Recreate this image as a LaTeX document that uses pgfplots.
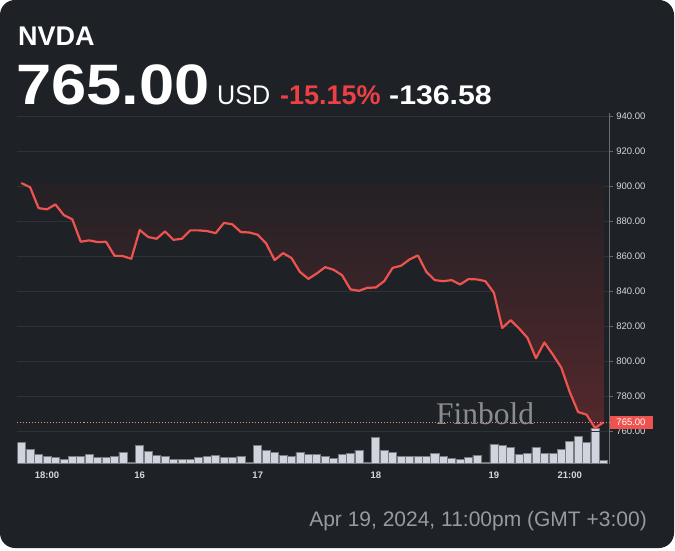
\documentclass[border=0pt]{standalone}
\usepackage{pgfplots}
\pgfplotsset{compat=1.18}
\usepackage{pgfplotstable}
\usepackage{graphicx}
\usepackage{fontspec}
\setmainfont{Liberation Sans}
\newfontfamily\seriffont{Liberation Serif}
\definecolor{bg}{RGB}{30,33,38}
\definecolor{gridc}{RGB}{46,49,55}
\definecolor{axisline}{RGB}{105,108,114}
\definecolor{lblgray}{RGB}{212,215,220}
\definecolor{pline}{RGB}{239,83,80}
\definecolor{pcred}{RGB}{236,64,68}
\definecolor{vol}{RGB}{209,212,220}
\definecolor{voledge}{RGB}{120,123,130}
\definecolor{filltop}{RGB}{36,33,37}
\definecolor{fillbot}{RGB}{84,40,44}
\definecolor{dategray}{RGB}{150,155,163}

\pgfplotstableread{
i p
1 901.6
2 899.3
3 887.4
4 886.7
5 889.5
6 883.4
7 881.0
8 868.2
9 869.0
10 868.0
11 868.2
12 860.2
13 860.0
14 858.5
15 874.9
16 870.9
17 869.9
18 874.1
19 869.3
20 869.9
21 874.7
22 874.7
23 874.3
24 873.1
25 879.0
26 878.1
27 873.7
28 873.5
29 872.2
30 867.2
31 857.7
32 861.7
33 858.9
34 851.0
35 847.0
36 850.1
37 853.7
38 852.2
39 849.1
40 841.0
41 840.2
42 841.9
43 842.1
44 845.7
45 853.3
46 854.5
47 858.1
48 860.4
49 851.0
50 846.3
51 845.7
52 846.3
53 843.8
54 846.9
55 846.7
56 845.7
57 839.2
58 819.0
59 823.4
60 818.7
61 813.3
62 801.7
63 810.7
64 803.8
65 796.4
66 782.5
67 771.0
68 769.5
69 761.9
70 765.0
}\price

\pgfplotstableread{
i v
1 21
2 14.7
3 9.3
4 7
5 6.3
6 4.7
7 7
8 7.7
9 9.3
10 6.3
11 6.3
12 7.7
13 11.3
14 1.3
15 18.7
16 12.3
17 8.7
18 7
19 4.7
20 4.7
21 4.7
22 6
23 7
24 8.7
25 6
26 6
27 7.7
28 1
29 18.7
30 13
31 11
32 8.7
33 7
34 11
35 9.5
36 9.3
37 7
38 5.7
39 9.3
40 10.7
41 13.7
42 1.7
43 26.3
44 13
45 11.3
46 7.7
47 7
48 7
49 7
50 10
51 7.3
52 5.7
53 4
54 6.3
55 8.7
56 1.3
57 19.7
58 18.7
59 16
60 9.3
61 10
62 16
63 10.7
64 10
65 14.3
66 22.7
67 27
68 21.7
69 35.7
70 3.3
}\volume

\begin{document}
\begin{tikzpicture}[x=1pt,y=1pt]
\fill[white] (0,0) rectangle (675,550);
\fill[bg, rounded corners=15pt] (0,2) rectangle (674,550);

% header
\node[anchor=base west, inner sep=0, text=white] at (18,504)
  {\fontsize{27}{27}\selectfont\bfseries NVDA};
\node[anchor=base west, inner sep=0, text=white] at (16,445)
  {\scalebox{1.11}[1]{\fontsize{57}{57}\selectfont\bfseries 765.00}};
\node[anchor=base west, inner sep=0, text=white] at (217,445)
  {\scalebox{0.93}[1]{\fontsize{27}{27}\selectfont USD}};
\node[anchor=base west, inner sep=0, text=pcred] at (280,445)
  {\fontsize{27}{27}\selectfont\bfseries -15.15\%};
\node[anchor=base west, inner sep=0, text=white] at (389,445)
  {\scalebox{1.12}[1]{\fontsize{27}{27}\selectfont\bfseries -136.58}};

% date
\node[anchor=base east, inner sep=0, text=dategray] at (647,24)
  {\fontsize{21}{21}\selectfont Apr 19, 2024, 11:00pm (GMT +3:00)};

% volume
\begin{axis}[at={(17.5pt,86.3pt)}, anchor=south west, scale only axis,
  width=591.8pt, height=350.7pt,
  xmin=0.5, xmax=70.7, ymin=0, ymax=350.7,
  axis lines=none]
\addplot[ybar, bar width=0.95, fill=vol, draw=voledge, line width=0.6pt]
  table[x=i, y=v] {\volume};
\end{axis}

% price
\begin{axis}[at={(17.5pt,86.3pt)}, anchor=south west, scale only axis,
  width=591.8pt, height=350.7pt,
  xmin=0.5, xmax=70.7, ymin=741.5, ymax=941.7,
  clip=false,
  axis y line*=right, axis x line*=bottom,
  x axis line style={draw=none},
  y axis line style={draw=axisline, line width=0.7pt},
  tick align=outside, major tick length=3.5pt,
  xtick style={draw=none},
  ytick style={draw=axisline, line width=0.6pt},
  ytick={760,780,...,940},
  ymajorgrids, grid style={draw=gridc, line width=0.8pt},
  xtick={4,15,29,43,57,66},
  xticklabels={18:00,16,17,18,19,21:00},
  xticklabel style={font=\fontsize{9.5}{10}\selectfont\bfseries, text=lblgray, yshift=-1pt},
  yticklabel style={font=\fontsize{9.5}{10}\selectfont, text=lblgray,
    /pgf/number format/fixed, /pgf/number format/fixed zerofill,
    /pgf/number format/precision=2, /pgf/number format/1000 sep={}},
  /pgf/number format/assume math mode=true]
\addplot[draw=none, top color=filltop, bottom color=fillbot]
  table[x=i, y=p] {\price} -- (axis cs:70,901.58) -- (axis cs:1,901.58) -- cycle;
\addplot[draw=pline!70, line width=0.6pt, dash pattern=on 1pt off 2pt]
  coordinates {(0.5,765) (70.7,765)};
\addplot[draw=pline, line width=2.2pt, line join=round, line cap=round] table[x=i, y=p] {\price};
\coordinate (lastp) at (axis cs:70.7,765);
\end{axis}

\node[fill=pline, text=white, anchor=west, inner sep=0, minimum width=43pt,
  minimum height=13.3pt, font=\fontsize{9.5}{10}\selectfont] at (lastp) {765.00};

\node[anchor=base west, inner sep=0, text={rgb,255:red,140;green,140;blue,142}]
  at (436,126) {\seriffont\fontsize{31.5}{31.5}\selectfont Finbold};
\end{tikzpicture}
\end{document}
